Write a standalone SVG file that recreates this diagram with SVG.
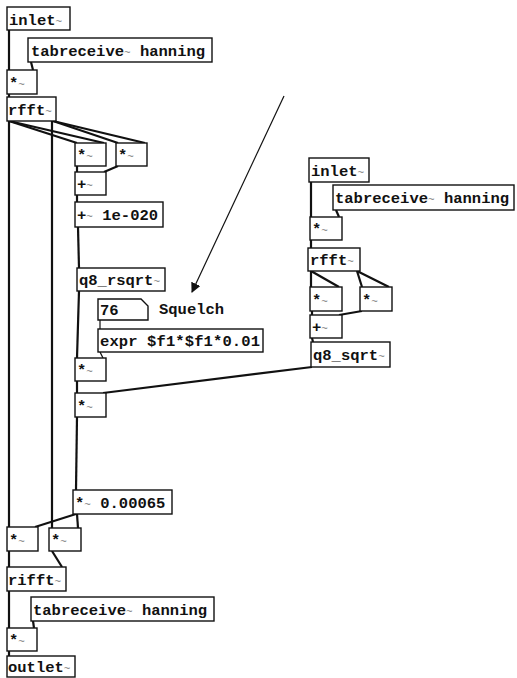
<svg xmlns="http://www.w3.org/2000/svg" width="517" height="678" viewBox="0 0 517 678">
<style>
.box{fill:#fff;stroke:#111;stroke-width:1.4}
.t{font-family:"Liberation Mono","DejaVu Sans Mono",monospace;font-weight:bold;font-size:15.5px;fill:#111}
.tl{font-size:11px;fill:#777;font-weight:normal}
.sig{stroke:#111;stroke-width:2.2;fill:none}
.ctl{stroke:#111;stroke-width:1.2;fill:none}
</style>
<defs>
<marker id="ah" markerWidth="10" markerHeight="10" refX="9" refY="5" orient="auto" markerUnits="userSpaceOnUse" viewBox="0 0 10 10">
<path d="M0,0 L10,5 L0,10 z" fill="#111"/>
</marker>
</defs>
<rect width="517" height="678" fill="#fff"/>
<g id="connectors">
<line class="sig" x1="9" y1="30" x2="9" y2="70"/>
<line class="sig" x1="31" y1="62" x2="33" y2="70"/>
<line class="sig" x1="9" y1="94" x2="9" y2="97"/>
<line class="sig" x1="9" y1="121" x2="9" y2="527"/>
<line class="sig" x1="9" y1="121" x2="77" y2="143"/>
<line class="sig" x1="9" y1="121" x2="104" y2="143"/>
<line class="sig" x1="52" y1="121" x2="52" y2="528"/>
<line class="sig" x1="53" y1="121" x2="118" y2="143"/>
<line class="sig" x1="53" y1="121" x2="145" y2="143"/>
<line class="sig" x1="77" y1="166" x2="77" y2="172"/>
<line class="sig" x1="118" y1="166" x2="104" y2="172"/>
<line class="sig" x1="77" y1="195" x2="77" y2="202"/>
<line class="sig" x1="78" y1="227" x2="79" y2="268"/>
<line class="sig" x1="79" y1="291" x2="77" y2="358"/>
<line class="ctl" x1="100" y1="320" x2="100" y2="329"/>
<line class="ctl" x1="100" y1="352" x2="103" y2="358"/>
<line class="sig" x1="77" y1="381" x2="77" y2="393"/>
<line class="sig" x1="312" y1="367" x2="103" y2="393"/>
<line class="sig" x1="77" y1="417" x2="76" y2="490"/>
<line class="sig" x1="76" y1="514" x2="35" y2="527"/>
<line class="sig" x1="77" y1="514" x2="78" y2="528"/>
<line class="sig" x1="9" y1="551" x2="9" y2="567"/>
<line class="sig" x1="52" y1="551" x2="62" y2="567"/>
<line class="sig" x1="9" y1="591" x2="9" y2="628"/>
<line class="sig" x1="33" y1="621" x2="34" y2="628"/>
<line class="sig" x1="9" y1="651" x2="9" y2="656"/>
<line class="sig" x1="311" y1="182" x2="311" y2="217"/>
<line class="sig" x1="336" y1="210" x2="339" y2="217"/>
<line class="sig" x1="311" y1="240" x2="311" y2="248"/>
<line class="sig" x1="311" y1="271" x2="311" y2="287"/>
<line class="sig" x1="311" y1="271" x2="339" y2="287"/>
<line class="sig" x1="357" y1="271" x2="362" y2="287"/>
<line class="sig" x1="357" y1="271" x2="389" y2="287"/>
<line class="sig" x1="312" y1="311" x2="312" y2="315"/>
<line class="sig" x1="362" y1="311" x2="339" y2="315"/>
<line class="sig" x1="312" y1="338" x2="313" y2="342"/>
<line class="ctl" x1="284" y1="96" x2="192" y2="292" marker-end="url(#ah)"/>
</g>
<g id="inlet1"><rect class="box" x="7" y="7" width="63" height="23"/><text class="t" x="9" y="25">inlet<tspan class="tl">~</tspan></text></g>
<g id="tab1"><rect class="box" x="28" y="38" width="184" height="24"/><text class="t" x="31" y="56">tabreceive<tspan class="tl">~</tspan> hanning</text></g>
<g id="mul1"><rect class="box" x="7" y="70" width="30" height="24"/><text class="t" x="9" y="88">*<tspan class="tl">~</tspan></text></g>
<g id="rfft1"><rect class="box" x="7" y="97" width="49" height="24"/><text class="t" x="8" y="115">rfft<tspan class="tl">~</tspan></text></g>
<g id="sq1"><rect class="box" x="75" y="143" width="31" height="23"/><text class="t" x="77" y="160">*<tspan class="tl">~</tspan></text></g>
<g id="sq2"><rect class="box" x="116" y="143" width="31" height="23"/><text class="t" x="118" y="160">*<tspan class="tl">~</tspan></text></g>
<g id="add1"><rect class="box" x="75" y="172" width="31" height="23"/><text class="t" x="77" y="189">+<tspan class="tl">~</tspan></text></g>
<g id="add2"><rect class="box" x="75" y="202" width="88" height="25"/><text class="t" x="77" y="220">+<tspan class="tl">~</tspan> 1e-020</text></g>
<g id="rsqrt"><rect class="box" x="77" y="268" width="88" height="23"/><text class="t" x="79" y="285">q8_rsqrt<tspan class="tl">~</tspan></text></g>
<g id="num76"><polygon class="box" points="98,299 141,299 148,306 148,320 98,320"/><text class="t" x="100" y="315">76</text></g>
<g id="squelch"><text class="t" x="159" y="314">Squelch</text></g>
<g id="expr"><rect class="box" x="98" y="329" width="165" height="23"/><text class="t" x="100" y="346" textLength="160" lengthAdjust="spacing">expr $f1*$f1*0.01</text></g>
<g id="mul2"><rect class="box" x="75" y="358" width="31" height="23"/><text class="t" x="77" y="375">*<tspan class="tl">~</tspan></text></g>
<g id="mul3"><rect class="box" x="75" y="393" width="31" height="24"/><text class="t" x="77" y="411">*<tspan class="tl">~</tspan></text></g>
<g id="mul4"><rect class="box" x="73" y="490" width="99" height="24"/><text class="t" x="75" y="508">*<tspan class="tl">~</tspan> 0.00065</text></g>
<g id="bmulL"><rect class="box" x="7" y="527" width="31" height="24"/><text class="t" x="9" y="545">*<tspan class="tl">~</tspan></text></g>
<g id="bmulR"><rect class="box" x="49" y="528" width="32" height="23"/><text class="t" x="51" y="545">*<tspan class="tl">~</tspan></text></g>
<g id="rifft"><rect class="box" x="7" y="567" width="59" height="24"/><text class="t" x="8" y="585">rifft<tspan class="tl">~</tspan></text></g>
<g id="tab2"><rect class="box" x="31" y="597" width="183" height="24"/><text class="t" x="33" y="615">tabreceive<tspan class="tl">~</tspan> hanning</text></g>
<g id="mul5"><rect class="box" x="7" y="628" width="30" height="23"/><text class="t" x="9" y="645">*<tspan class="tl">~</tspan></text></g>
<g id="outlet"><rect class="box" x="7" y="656" width="68" height="21"/><text class="t" x="8" y="672">outlet<tspan class="tl">~</tspan></text></g>
<g id="inlet2"><rect class="box" x="309" y="158" width="60" height="24"/><text class="t" x="311" y="176">inlet<tspan class="tl">~</tspan></text></g>
<g id="tab3"><rect class="box" x="333" y="185" width="181" height="25"/><text class="t" x="335" y="203">tabreceive<tspan class="tl">~</tspan> hanning</text></g>
<g id="mulR"><rect class="box" x="310" y="217" width="32" height="23"/><text class="t" x="312" y="234">*<tspan class="tl">~</tspan></text></g>
<g id="rfft2"><rect class="box" x="308" y="248" width="52" height="23"/><text class="t" x="310" y="265">rfft<tspan class="tl">~</tspan></text></g>
<g id="sqL"><rect class="box" x="310" y="287" width="32" height="24"/><text class="t" x="312" y="305">*<tspan class="tl">~</tspan></text></g>
<g id="sqR"><rect class="box" x="360" y="287" width="32" height="24"/><text class="t" x="362" y="305">*<tspan class="tl">~</tspan></text></g>
<g id="addR"><rect class="box" x="310" y="315" width="32" height="23"/><text class="t" x="312" y="332">+<tspan class="tl">~</tspan></text></g>
<g id="sqrt"><rect class="box" x="311" y="342" width="79" height="25"/><text class="t" x="313" y="360">q8_sqrt<tspan class="tl">~</tspan></text></g>
</svg>
